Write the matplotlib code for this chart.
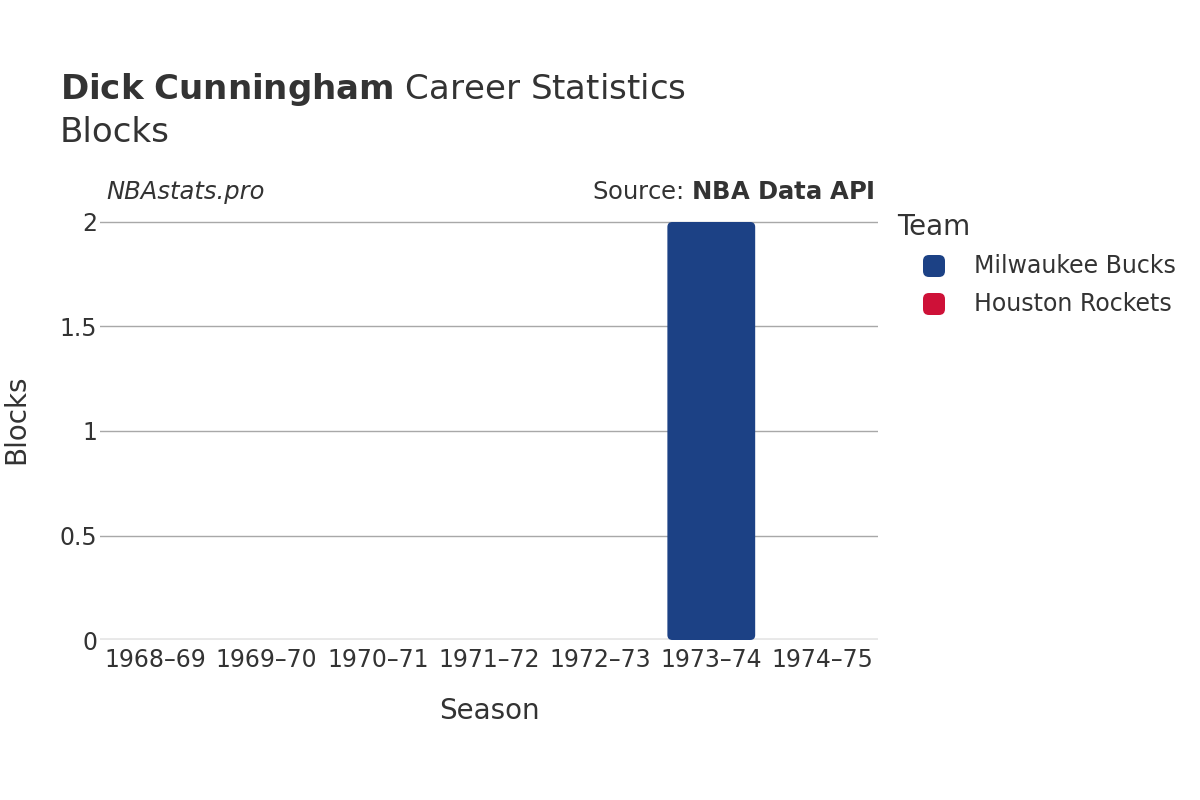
import matplotlib
matplotlib.use("Agg")
import matplotlib.pyplot as plt
from matplotlib.patches import FancyBboxPatch

seasons = ["1968–69", "1969–70", "1970–71", "1971–72", "1972–73", "1973–74", "1974–75"]
teams = ["Milwaukee Bucks", "Milwaukee Bucks", "Milwaukee Bucks", "Milwaukee Bucks",
         "Milwaukee Bucks", "Milwaukee Bucks", "Houston Rockets"]
blocks = [0, 0, 0, 0, 0, 2, 0]
legend_teams = ["Milwaukee Bucks", "Houston Rockets"]
team_colors = {"Milwaukee Bucks": "#1c4185", "Houston Rockets": "#ce1138"}

txt = "#333333"
W, H = 1200, 800
fig = plt.figure(figsize=(12, 8), dpi=100)
ax = fig.add_axes([100/W, 160/H, 778/W, 428/H])

bar_w = 0.79
for i, (v, t) in enumerate(zip(blocks, teams)):
    if v > 0:
        p = FancyBboxPatch((i - bar_w/2, 0), bar_w, v,
                           boxstyle="round,pad=0,rounding_size=0.045",
                           mutation_aspect=0.53, facecolor=team_colors[t],
                           edgecolor="none", zorder=3)
        ax.add_patch(p)

ax.set_xlim(-0.5, len(seasons) - 0.5)
ax.set_ylim(0, 2 + 10/209)
ax.set_yticks([0, 0.5, 1, 1.5, 2])
ax.set_yticklabels(["0", "0.5", "1", "1.5", "2"])
ax.set_xticks(range(len(seasons)))
ax.set_xticklabels(seasons)
ax.tick_params(axis="both", length=0, labelsize=17, colors=txt)
ax.tick_params(axis="x", pad=6)
ax.tick_params(axis="y", pad=2)
ax.grid(axis="y", color="#a8a8a8", linewidth=1, zorder=0)
ax.axhline(0, color="#e8e8e8", linewidth=3.5, zorder=2)
for s in ax.spines.values():
    s.set_visible(False)

ax.set_xlabel("Season", fontsize=20, color=txt, labelpad=18)
ax.set_ylabel("Blocks", fontsize=20, color=txt)
ax.yaxis.set_label_coords(-0.090, 0.516)

fig.text(60/W, 1 - 89/H, r"$\bf{Dick\ Cunningham}$ Career Statistics",
         fontsize=24.5, color=txt, va="center", ha="left")
fig.text(60/W, 1 - 132/H, "Blocks", fontsize=24.5, color=txt, va="center", ha="left")
fig.text(106/W, 1 - 192/H, "NBAstats.pro", fontsize=17.5, style="italic",
         color=txt, va="center", ha="left")
fig.text(875/W, 1 - 192/H, r"Source: $\bf{NBA\ Data\ API}$", fontsize=17.5,
         color=txt, va="center", ha="right")

# legend drawn by hand
fig.text(897/W, 1 - 227/H, "Team", fontsize=20, color=txt, va="center", ha="left")
for k, t in enumerate(legend_teams):
    yc = 266 + 38 * k
    fig.patches.append(FancyBboxPatch((923/W, 1 - (yc + 11)/H), 22/W, 22/H,
                                      boxstyle="round,pad=0,rounding_size=0.005",
                                      mutation_aspect=1.5,
                                      transform=fig.transFigure, figure=fig,
                                      facecolor=team_colors[t], edgecolor="none"))
    fig.text(974/W, 1 - yc/H, t, fontsize=17, color=txt, va="center", ha="left")

fig.savefig("out.png", dpi=100, facecolor="white")
